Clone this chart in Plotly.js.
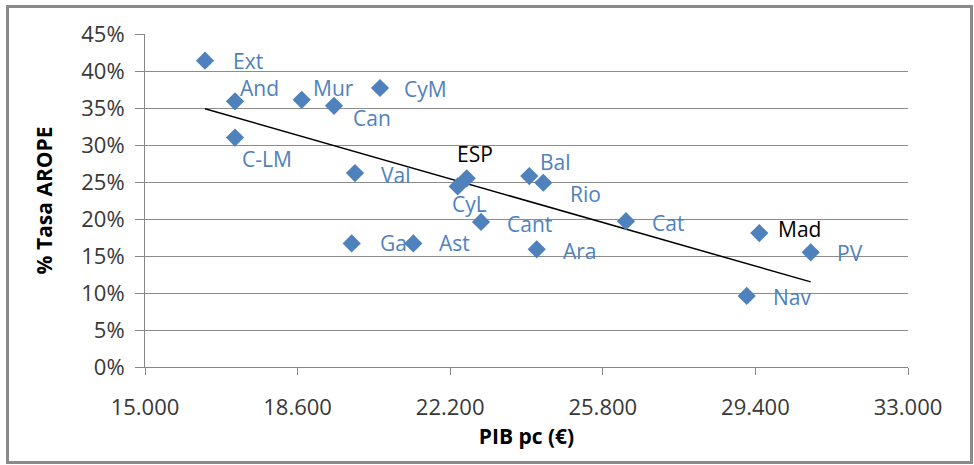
<!DOCTYPE html>
<html>
<head>
<meta charset="utf-8">
<script src="https://cdn.plot.ly/plotly-3.0.1.min.js"></script>
<style>
  html, body { margin: 0; padding: 0; background: #ffffff; }
  #wrap { position: relative; width: 974px; height: 465px; }
  #chart { position: absolute; left: 0; top: 0; width: 974px; height: 465px; }
  #frame { position: absolute; left: 6px; top: 5px; width: 961px; height: 453px;
           border: 3px solid #8a8a8a; pointer-events: none; box-sizing: content-box; }
</style>
</head>
<body>
<div id="wrap">
  <div id="chart"></div>
  <div id="frame"></div>
</div>
<script>
// ---- Data ----
const regions = ["Ext","And","C-LM","Mur","Can","CyM","Val","Ga","Ast","CyL","ESP","Cant","Bal","Rio","Ara","Cat","Mad","PV","Nav"];
const pibPc   = [16415,17123,17123,18697,19459,20544,19954,19876,21330,22377,22589,22927,24066,24396,24241,26347,29492,30705,29195];
const arope   = [0.414,0.359,0.310,0.361,0.353,0.377,0.262,0.167,0.167,0.244,0.255,0.196,0.258,0.249,0.159,0.197,0.181,0.155,0.096];
const trendX  = [16415, 30705];
const trendY  = [0.349, 0.115];
const xTicks  = [15000, 18600, 22200, 25800, 29400, 33000];
const yTicks  = [0, 0.05, 0.10, 0.15, 0.20, 0.25, 0.30, 0.35, 0.40, 0.45];

// label placement (pixel offsets from point) and colour
const labelShift = {
  "Ext":[26,0], "And":[3,13], "C-LM":[5,-21], "Mur":[9,12], "Can":[17,-12],
  "CyM":[22,-1], "Val":[24,-2], "Ga":[26,0], "Ast":[24,0], "CyL":[-8,-18],
  "ESP":[-12,24], "Cant":[24,-2], "Bal":[9,14], "Rio":[25,-11], "Ara":[24,-2],
  "Cat":[24,-2], "Mad":[17,4], "PV":[24,-1], "Nav":[24,-1]
};
const blackLabels = ["ESP","Mad"];

const BLUE = "#4F81BD";
const FONT = "Open Sans, Noto Sans, sans-serif";

const annotations = regions.map((r, i) => ({
  x: pibPc[i], y: arope[i], xref: "x", yref: "y",
  text: r, showarrow: false, xanchor: "left", yanchor: "middle",
  xshift: labelShift[r][0], yshift: labelShift[r][1],
  font: { family: FONT, size: 21, color: blackLabels.includes(r) ? "#000000" : BLUE }
}));

const traces = [
  {
    type: "scatter", mode: "lines", x: trendX, y: trendY,
    line: { color: "#000000", width: 1.5 }, hoverinfo: "skip", showlegend: false
  },
  {
    type: "scatter", mode: "markers", x: pibPc, y: arope, text: regions,
    marker: { symbol: "diamond", size: 14, color: BLUE, line: { width: 0 } },
    showlegend: false
  }
];

const layout = {
  width: 974, height: 465,
  margin: { l: 145, r: 66, t: 34, b: 98 },
  paper_bgcolor: "#ffffff", plot_bgcolor: "#ffffff",
  separators: ",.",
  font: { family: FONT, size: 22, color: "#383838" },
  showlegend: false,
  xaxis: {
    range: [15000, 33000], tickvals: xTicks, tickformat: ",.0f",
    showgrid: false, zeroline: false, showline: true, linecolor: "#868686", linewidth: 1,
    ticks: "outside", ticklen: 7, tickcolor: "#868686",
    ticklabelstandoff: 14,
    tickfont: { family: FONT, size: 22, color: "#383838" },
    automargin: true,
    title: { text: "PIB pc (€)", standoff: 8, font: { family: FONT, size: 21, color: "#000000", weight: "bold" } }
  },
  yaxis: {
    range: [0, 0.45], tickvals: yTicks, tickformat: ".0%",
    showgrid: true, gridcolor: "#8c8c8c", gridwidth: 1, zeroline: false,
    showline: true, linecolor: "#868686", linewidth: 1,
    ticks: "outside", ticklen: 9, tickcolor: "#868686",
    ticklabelstandoff: 6,
    tickfont: { family: FONT, size: 22, color: "#383838" },
    automargin: true,
    title: { text: "% Tasa AROPE", standoff: 22, font: { family: FONT, size: 21, color: "#000000", weight: "bold" } }
  },
  annotations: annotations
};

Plotly.newPlot("chart", traces, layout, { displayModeBar: false, staticPlot: true });
</script>
</body>
</html>
